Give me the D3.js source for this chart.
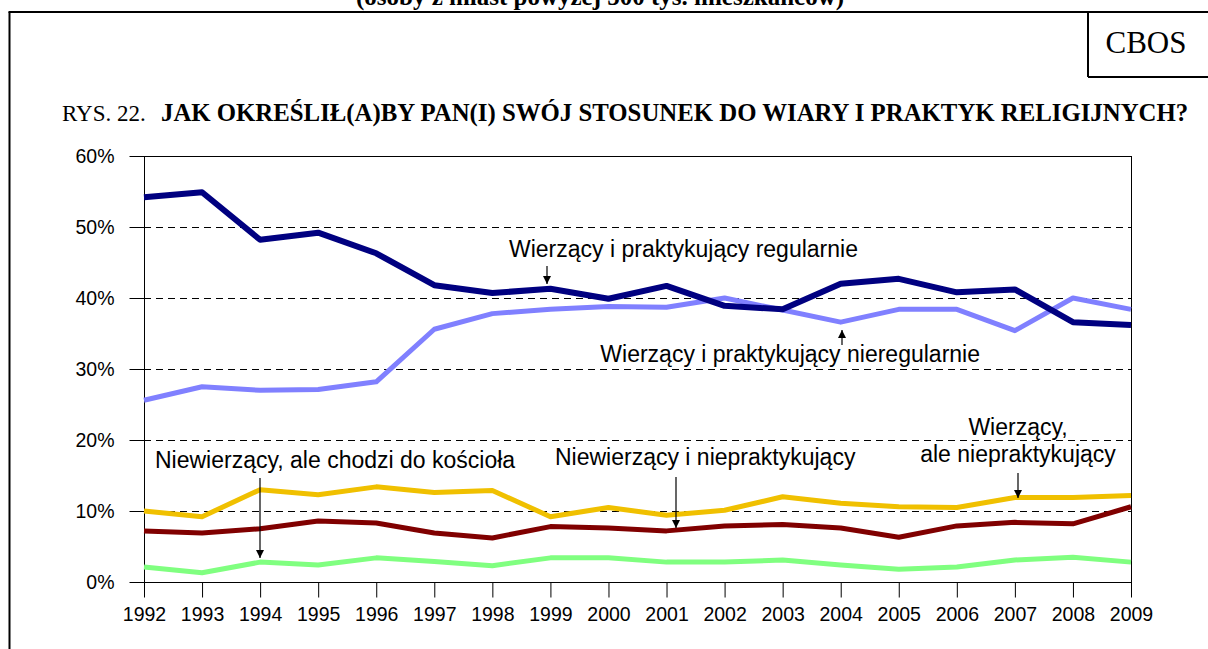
<!DOCTYPE html>
<html>
<head>
<meta charset="utf-8">
<script src="https://cdn.jsdelivr.net/npm/d3@7"></script>
<style>
  body { margin: 0; background: #fff; }
  svg { display: block; }
</style>
</head>
<body>
<div id="chart"></div>
<script>
// data (percent)
var years = [1992,1993,1994,1995,1996,1997,1998,1999,2000,2001,2002,2003,2004,2005,2006,2007,2008,2009];
var regularnie   = [54.2,54.9,48.2,49.2,46.3,41.8,40.7,41.3,39.9,41.7,38.9,38.4,42.0,42.7,40.8,41.2,36.6,36.2];
var nieregularnie= [25.6,27.5,27.0,27.1,28.2,35.6,37.8,38.4,38.8,38.7,40.0,38.3,36.6,38.4,38.4,35.4,40.0,38.4];
var niepraktyk   = [10.0,9.2,13.0,12.3,13.4,12.6,12.9,9.2,10.5,9.4,10.1,12.0,11.1,10.6,10.5,11.9,11.9,12.2];
var niewierzacy  = [7.2,6.9,7.5,8.6,8.3,6.9,6.2,7.8,7.6,7.2,7.9,8.1,7.6,6.3,7.9,8.4,8.2,10.6];
var chodzi       = [2.1,1.3,2.8,2.4,3.4,2.9,2.3,3.4,3.4,2.8,2.8,3.1,2.4,1.8,2.1,3.1,3.5,2.8];
var yTicks = [0,10,20,30,40,50,60];

var series = [
  {name:"chodzi", values:chodzi, color:"#80ff80", w:5},
  {name:"niewierzacy", values:niewierzacy, color:"#800000", w:5},
  {name:"niepraktyk", values:niepraktyk, color:"#f0c000", w:5},
  {name:"nieregularnie", values:nieregularnie, color:"#8080ff", w:5},
  {name:"regularnie", values:regularnie, color:"#000080", w:6}
];

var W = 1208, H = 649;
var svg = d3.select("#chart").append("svg").attr("width",W).attr("height",H);

// outer frame pieces
svg.append("line").attr("x1",9.5).attr("y1",12).attr("x2",9.5).attr("y2",H).attr("stroke","#000").attr("stroke-width",2);
svg.append("line").attr("x1",8.5).attr("y1",12).attr("x2",W).attr("y2",12).attr("stroke","#000").attr("stroke-width",2);
svg.append("line").attr("x1",1088).attr("y1",12).attr("x2",1088).attr("y2",77).attr("stroke","#000").attr("stroke-width",2);
svg.append("line").attr("x1",1088).attr("y1",77).attr("x2",W).attr("y2",77).attr("stroke","#000").attr("stroke-width",2);
svg.append("text").attr("x",1146).attr("y",53).attr("text-anchor","middle")
  .style("font-family","'Liberation Serif', serif").style("font-size","31px").text("CBOS");

// heading, cut off at the top edge as in the original
svg.append("text").attr("x",600).attr("y",5).attr("text-anchor","middle")
  .style("font-family","'Liberation Serif', serif").style("font-size","25px").style("font-weight","bold")
  .text("(osoby z miast powyżej 500 tys. mieszkańców)");

// figure title
var title = svg.append("text").attr("x",62).attr("y",121)
  .style("font-family","'Liberation Serif', serif").style("font-size","23px");
title.append("tspan").text("RYS. 22.");
title.append("tspan").attr("x",161).style("font-weight","bold").style("font-size","24.8px")
  .text("JAK OKREŚLIŁ(A)BY PAN(I) SWÓJ STOSUNEK DO WIARY I PRAKTYK RELIGIJNYCH?");

var x = d3.scaleLinear().domain([1992,2009]).range([144,1131]);
var y = d3.scaleLinear().domain([0,60]).range([582,156]);

// dashed grid
svg.selectAll(".grid").data([10,20,30,40,50]).enter().append("line")
  .attr("x1",x(1992)).attr("x2",x(2009))
  .attr("y1",function(d){return y(d)+0.5;}).attr("y2",function(d){return y(d)+0.5;})
  .attr("stroke","#000").attr("stroke-width",1).attr("stroke-dasharray","7,5");

// plot box top + right
svg.append("line").attr("x1",x(1992)).attr("x2",x(2009)).attr("y1",y(60)+0.5).attr("y2",y(60)+0.5).attr("stroke","#000");
svg.append("line").attr("x1",x(2009)+0.5).attr("x2",x(2009)+0.5).attr("y1",y(60)).attr("y2",y(0)).attr("stroke","#000");

// axes
var fontTick = "'Liberation Sans', Arial, sans-serif";
var yAxis = svg.append("g").attr("transform","translate("+(x(1992)+0.5)+",0)")
  .call(d3.axisLeft(y).tickValues(yTicks).tickSize(15).tickPadding(15).tickFormat(function(d){return d+"%";}));
var xAxis = svg.append("g").attr("transform","translate(0,"+(y(0)+0.5)+")")
  .call(d3.axisBottom(x).tickValues(years).tickSize(15).tickPadding(10).tickFormat(d3.format("d")));
[yAxis,xAxis].forEach(function(a){
  a.select(".domain").remove();
  a.selectAll("line").attr("stroke","#000");
  a.selectAll("text").attr("fill","#000").style("font-family",fontTick).style("font-size","19.5px");
});
svg.append("line").attr("x1",x(1992)+0.5).attr("x2",x(1992)+0.5).attr("y1",y(60)).attr("y2",y(0)+15).attr("stroke","#000");
svg.append("line").attr("x1",x(1992)).attr("x2",x(2009)+1).attr("y1",y(0)+0.5).attr("y2",y(0)+0.5).attr("stroke","#000");

// lines
var line = d3.line().x(function(d,i){return x(years[i]);}).y(function(d){return y(d);});
svg.selectAll(".series").data(series).enter().append("path")
  .attr("d",function(s){return line(s.values);})
  .attr("fill","none").attr("stroke",function(s){return s.color;})
  .attr("stroke-width",function(s){return s.w;})
  .attr("stroke-linejoin","round");

// annotations
var labels = [
  {t:"Wierzący i praktykujący regularnie", x:509, y:257, a:"start"},
  {t:"Wierzący i praktykujący nieregularnie", x:980, y:362, a:"end"},
  {t:"Niewierzący, ale chodzi do kościoła", x:155, y:468, a:"start"},
  {t:"Niewierzący i niepraktykujący", x:555, y:465, a:"start"},
  {t:"Wierzący,", x:1018, y:435, a:"middle"},
  {t:"ale niepraktykujący", x:1018, y:462, a:"middle"}
];
svg.selectAll(".lab").data(labels).enter().append("text")
  .attr("x",function(d){return d.x;}).attr("y",function(d){return d.y;})
  .attr("text-anchor",function(d){return d.a;})
  .style("font-family",fontTick).style("font-size","23px").text(function(d){return d.t;});

var defs = svg.append("defs");
defs.append("marker").attr("id","arr").attr("viewBox","0 0 10 10").attr("refX",10).attr("refY",5)
  .attr("markerWidth",8).attr("markerHeight",8).attr("markerUnits","userSpaceOnUse").attr("orient","auto")
  .append("path").attr("d","M0,0L10,5L0,10z").attr("fill","#000");

var arrows = [
  {x:547, y1:266, y2:284},
  {x:842, y1:345, y2:330},
  {x:260, y1:478, y2:558},
  {x:676, y1:477, y2:528},
  {x:1018, y1:473, y2:498}
];
svg.selectAll(".arr").data(arrows).enter().append("line")
  .attr("x1",function(d){return d.x;}).attr("x2",function(d){return d.x;})
  .attr("y1",function(d){return d.y1;}).attr("y2",function(d){return d.y2;})
  .attr("stroke","#000").attr("stroke-width",1.2).attr("marker-end","url(#arr)");
</script>
</body>
</html>
